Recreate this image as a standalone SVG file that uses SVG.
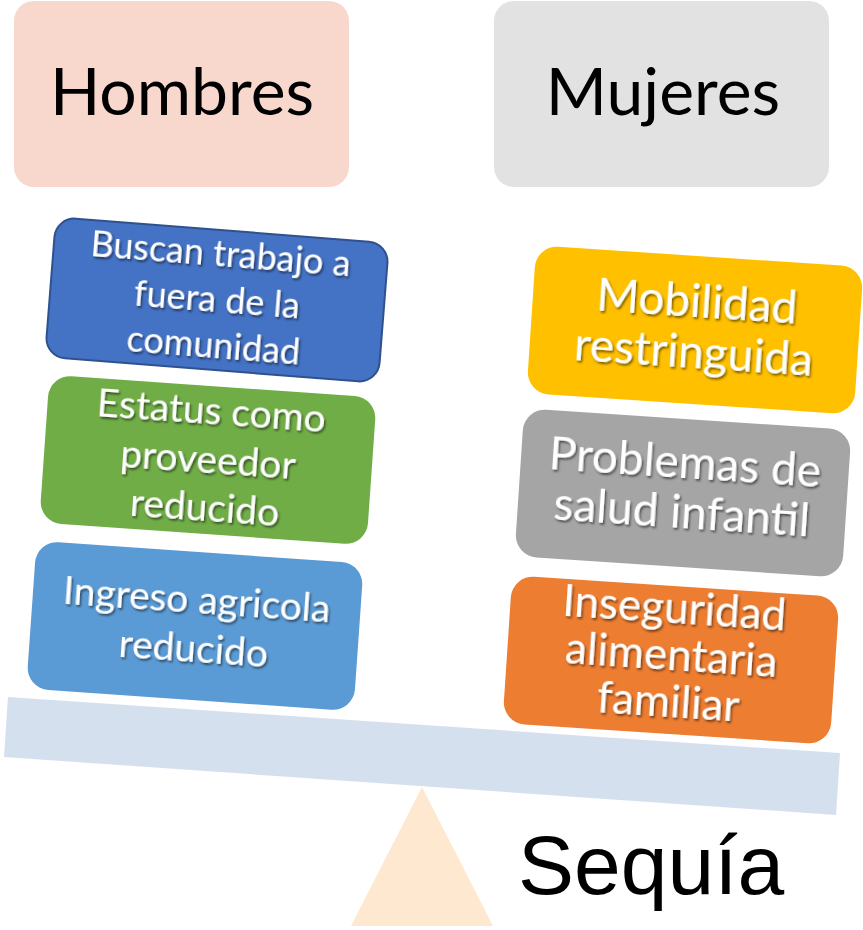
<svg xmlns="http://www.w3.org/2000/svg" width="863" height="930" viewBox="0 0 863 930">
<defs>
<style>
.hdr{font-family:Lato,"Open Sans",sans-serif;font-size:66px;fill:#000;text-anchor:middle}
.bt{font-family:Lato,"Open Sans",sans-serif;fill:#fff;text-anchor:middle;filter:url(#sh)}
.l1{font-size:36px}
.l2{font-size:39px}
.r{font-size:46px}
.r2{font-size:44px}
</style>
<filter id="sh" x="-10%" y="-20%" width="130%" height="150%">
<feDropShadow dx="1.5" dy="2" stdDeviation="1.2" flood-color="#000" flood-opacity="0.55"/>
</filter>
</defs>
<rect width="863" height="930" fill="#fff"/>
<g id="hombres">
<rect x="14" y="1" width="335" height="186" rx="20" fill="#F8D7CD"/>
<text class="hdr" x="182" y="115">Hombres</text>
</g>
<g id="mujeres">
<rect x="494" y="1" width="335" height="186" rx="20" fill="#E2E2E2"/>
<text class="hdr" x="663" y="115">Mujeres</text>
</g>
<g id="beam">
<polygon points="8,697 840,753 836,815 4,757" fill="#D5E0EF"/>
</g>
<g id="fulcrum">
<polygon points="422,787 493,926 351,926" fill="#FEE8CF"/>
</g>
<g id="n1" transform="translate(217,300) rotate(4.5)">
<rect x="-167" y="-70" width="334" height="140" rx="20" fill="#4472C4" stroke="#2F528F" stroke-width="2"/>
<text class="bt l1" x="0" y="-34">Buscan trabajo a</text>
<text class="bt l1" x="0" y="12">fuera de la</text>
<text class="bt l1" x="0" y="58">comunidad</text>
</g>
<g id="n2" transform="translate(208,460) rotate(4)">
<rect x="-164" y="-74" width="328" height="148" rx="22" fill="#70AD47"/>
<text class="bt l2" x="0" y="-36">Estatus como</text>
<text class="bt l2" x="0" y="13">proveedor</text>
<text class="bt l2" x="0" y="61">reducido</text>
</g>
<g id="n3" transform="translate(195,626) rotate(4)">
<rect x="-164" y="-74" width="328" height="148" rx="22" fill="#5B9BD5"/>
<text class="bt l2" x="0" y="-13">Ingreso agricola</text>
<text class="bt l2" x="0" y="36">reducido</text>
</g>
<g id="n4" transform="translate(695,330) rotate(3.8)">
<rect x="-164" y="-74" width="328" height="148" rx="22" fill="#FFC000"/>
<text class="bt r" x="0" y="-13">Mobilidad</text>
<text class="bt r" x="0" y="38">restringuida</text>
</g>
<g id="n5" transform="translate(683,493) rotate(3.8)">
<rect x="-164" y="-74" width="328" height="148" rx="22" fill="#A5A5A5"/>
<text class="bt r" x="0" y="-15">Problemas de</text>
<text class="bt r" x="0" y="35">salud infantil</text>
</g>
<g id="n6" transform="translate(671,660) rotate(3.8)">
<rect x="-164" y="-74" width="328" height="148" rx="22" fill="#ED7D31"/>
<text class="bt r2" x="0" y="-37">Inseguridad</text>
<text class="bt r2" x="0" y="10">alimentaria</text>
<text class="bt r2" x="0" y="57">familiar</text>
</g>
<g id="label">
<text x="518" y="894" style="font-family:'Liberation Sans',Arial,sans-serif;font-size:84px;fill:#000">Sequía</text>
</g>
<g id="connectors"/>
</svg>
